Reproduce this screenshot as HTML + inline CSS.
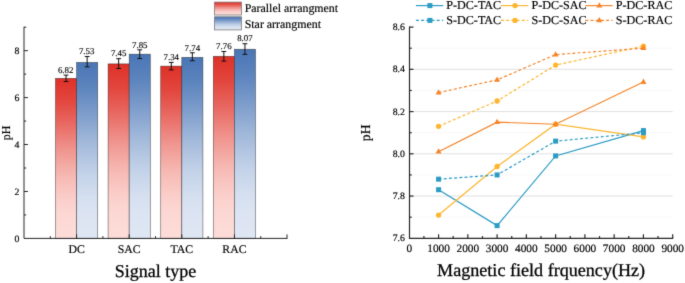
<!DOCTYPE html>
<html lang="en"><head><meta charset="utf-8"><title>pH charts</title>
<style>html,body{margin:0;padding:0;background:#fff}body{width:685px;height:283px;overflow:hidden}svg text{text-rendering:geometricPrecision;stroke:#000;stroke-width:0.17px;font-family:"Liberation Serif","Times New Roman",serif}svg text.t{stroke-width:0.28px}svg .v text{stroke-width:0.12px}</style>
</head><body>
<svg width="685" height="283" viewBox="0 0 685 283" style="display:block;filter:url(#soft)">
<defs><filter id="soft" x="0" y="0" width="685" height="283" filterUnits="userSpaceOnUse" color-interpolation-filters="sRGB"><feConvolveMatrix order="3" kernelMatrix="0.015 0.08 0.015 0.08 0.62 0.08 0.015 0.08 0.015" divisor="1" edgeMode="duplicate" preserveAlpha="true"/></filter><linearGradient id="gr" x1="0" y1="0" x2="0" y2="1"><stop offset="0" stop-color="#de3128"/><stop offset="0.1375" stop-color="#e2463d"/><stop offset="0.2625" stop-color="#e7645d"/><stop offset="0.45" stop-color="#f0958f"/><stop offset="0.575" stop-color="#f5b1ab"/><stop offset="0.6375" stop-color="#f7bdb8"/><stop offset="0.7625" stop-color="#fbcfcb"/><stop offset="0.8625" stop-color="#fcd8d4"/><stop offset="1" stop-color="#fddcd8"/></linearGradient><linearGradient id="gb" x1="0" y1="0" x2="0" y2="1"><stop offset="0" stop-color="#4a76b6"/><stop offset="0.1375" stop-color="#5c84bd"/><stop offset="0.2625" stop-color="#7798c9"/><stop offset="0.45" stop-color="#a1b8da"/><stop offset="0.575" stop-color="#b9cae4"/><stop offset="0.6375" stop-color="#c4d3e9"/><stop offset="0.7625" stop-color="#d4dfef"/><stop offset="0.8625" stop-color="#dce4f3"/><stop offset="1" stop-color="#dfe7f4"/></linearGradient></defs>
<rect width="685" height="283" fill="#fff"/>
<g id="left">
<rect x="55.50" y="78.36" width="21.10" height="160.04" fill="url(#gr)" stroke="#1a1a1a" stroke-opacity="0.62" stroke-width="0.65"/>
<rect x="76.60" y="62.45" width="21.10" height="175.95" fill="url(#gb)" stroke="#1a1a1a" stroke-opacity="0.62" stroke-width="0.65"/>
<rect x="108.10" y="63.88" width="21.10" height="174.52" fill="url(#gr)" stroke="#1a1a1a" stroke-opacity="0.62" stroke-width="0.65"/>
<rect x="129.20" y="54.19" width="21.10" height="184.21" fill="url(#gb)" stroke="#1a1a1a" stroke-opacity="0.62" stroke-width="0.65"/>
<rect x="160.70" y="66.15" width="21.10" height="172.25" fill="url(#gr)" stroke="#1a1a1a" stroke-opacity="0.62" stroke-width="0.65"/>
<rect x="181.80" y="57.38" width="21.10" height="181.02" fill="url(#gb)" stroke="#1a1a1a" stroke-opacity="0.62" stroke-width="0.65"/>
<rect x="213.30" y="56.30" width="21.10" height="182.10" fill="url(#gr)" stroke="#1a1a1a" stroke-opacity="0.62" stroke-width="0.65"/>
<rect x="234.40" y="49.26" width="21.10" height="189.14" fill="url(#gb)" stroke="#1a1a1a" stroke-opacity="0.62" stroke-width="0.65"/>
<g stroke="#262626" stroke-width="1.0" fill="none">
<path d="M24.0 26.8V238.4H287.40"/>
<path d="M24.0 214.93h2.2"/>
<path d="M24.0 191.47h4"/>
<path d="M24.0 168.00h2.2"/>
<path d="M24.0 144.53h4"/>
<path d="M24.0 121.07h2.2"/>
<path d="M24.0 97.60h4"/>
<path d="M24.0 74.13h2.2"/>
<path d="M24.0 50.67h4"/>
<path d="M24.0 27.20h2.2"/>
<path d="M50.30 238.4v-2.2"/>
<path d="M76.60 238.4v-4"/>
<path d="M102.90 238.4v-2.2"/>
<path d="M129.20 238.4v-4"/>
<path d="M155.50 238.4v-2.2"/>
<path d="M181.80 238.4v-4"/>
<path d="M208.10 238.4v-2.2"/>
<path d="M234.40 238.4v-4"/>
<path d="M260.70 238.4v-2.2"/>
<path d="M287.00 238.4v-4"/>
</g>
<g stroke="#111" stroke-width="1" fill="none">
<path d="M66.05 75.14V81.57M63.65 75.14h4.8M63.65 81.57h4.8"/>
<path d="M87.15 56.53V66.86M84.75 56.53h4.8M84.75 66.86h4.8"/>
<path d="M118.65 58.65V68.50M116.25 58.65h4.8M116.25 68.50h4.8"/>
<path d="M139.75 49.82V58.55M137.35 49.82h4.8M137.35 58.55h4.8"/>
<path d="M171.25 62.40V69.91M168.85 62.40h4.8M168.85 69.91h4.8"/>
<path d="M192.35 52.78V60.76M189.95 52.78h4.8M189.95 60.76h4.8"/>
<path d="M223.85 51.49V61.11M221.45 51.49h4.8M221.45 61.11h4.8"/>
<path d="M244.95 43.72V54.33M242.55 43.72h4.8M242.55 54.33h4.8"/>
</g>
<g class="v" font-family="Liberation Serif, Times New Roman, serif" font-size="8.9" fill="#000" text-anchor="middle">
<text x="65.65" y="73.30">6.82</text>
<text x="86.65" y="54.40">7.53</text>
<text x="118.65" y="56.30">7.45</text>
<text x="139.75" y="47.80">7.85</text>
<text x="171.25" y="60.00">7.34</text>
<text x="192.35" y="50.50">7.74</text>
<text x="223.85" y="49.40">7.76</text>
<text x="244.95" y="41.40">8.07</text>
</g>
<g font-family="Liberation Serif, Times New Roman, serif" font-size="9.8" fill="#000" text-anchor="end">
<text x="19.5" y="241.80">0</text>
<text x="19.5" y="194.87">2</text>
<text x="19.5" y="147.93">4</text>
<text x="19.5" y="101.00">6</text>
<text x="19.5" y="54.07">8</text>
</g>
<g font-family="Liberation Serif, Times New Roman, serif" font-size="11.8" fill="#000" text-anchor="middle">
<text x="76.60" y="252.6">DC</text>
<text x="129.20" y="252.6">SAC</text>
<text x="181.80" y="252.6">TAC</text>
<text x="234.40" y="252.6">RAC</text>
</g>
<text class="t" font-family="Liberation Serif, Times New Roman, serif" font-size="18" fill="#000" text-anchor="middle" x="155.5" y="276.5">Signal type</text>
<text font-family="Liberation Serif, Times New Roman, serif" font-size="12" fill="#000" text-anchor="middle" transform="translate(9.8 133) rotate(-90)">pH</text>
<rect x="214.5" y="2.1" width="27" height="12.9" fill="url(#gr)" stroke="#7c7c7c" stroke-width="0.8"/>
<rect x="214.5" y="16.8" width="27" height="13.1" fill="url(#gb)" stroke="#7c7c7c" stroke-width="0.8"/>
<text font-family="Liberation Serif, Times New Roman, serif" font-size="11.9" fill="#000" x="244.7" y="12.4">Parallel arrangment</text>
<text font-family="Liberation Serif, Times New Roman, serif" font-size="11.9" fill="#000" x="244.7" y="27.6">Star arrangment</text>
</g>
<g id="right">
<g stroke="#d6d6d6" stroke-width="0.75">
<path d="M409.3 196.06H672.7"/>
<path d="M409.3 153.82H672.7"/>
<path d="M409.3 111.58H672.7"/>
<path d="M409.3 69.34H672.7"/>
</g>
<g stroke="#ececec" stroke-width="0.7" stroke-dasharray="0.9 0.7">
<path d="M409.3 217.18H672.7"/>
<path d="M409.3 174.94H672.7"/>
<path d="M409.3 132.70H672.7"/>
<path d="M409.3 90.46H672.7"/>
<path d="M409.3 48.22H672.7"/>
</g>
<polyline points="438.57,189.72 497.10,225.63 555.63,155.93 643.43,130.59" fill="none" stroke="#2b9bc4" stroke-width="1.2"/>
<rect x="436.07" y="187.22" width="5.0" height="5.0" fill="#2b9bc4"/>
<rect x="494.60" y="223.13" width="5.0" height="5.0" fill="#2b9bc4"/>
<rect x="553.13" y="153.43" width="5.0" height="5.0" fill="#2b9bc4"/>
<rect x="640.93" y="128.09" width="5.0" height="5.0" fill="#2b9bc4"/>
<polyline points="438.57,215.07 497.10,166.49 555.63,124.25 643.43,136.92" fill="none" stroke="#fdb52e" stroke-width="1.2"/>
<circle cx="438.57" cy="215.07" r="2.65" fill="#fdb52e"/>
<circle cx="497.10" cy="166.49" r="2.65" fill="#fdb52e"/>
<circle cx="555.63" cy="124.25" r="2.65" fill="#fdb52e"/>
<circle cx="643.43" cy="136.92" r="2.65" fill="#fdb52e"/>
<polyline points="438.57,151.71 497.10,122.14 555.63,124.25 643.43,82.01" fill="none" stroke="#f58429" stroke-width="1.2"/>
<path d="M438.57 148.31L441.57 153.61H435.57Z" fill="#f58429"/>
<path d="M497.10 118.74L500.10 124.04H494.10Z" fill="#f58429"/>
<path d="M555.63 120.85L558.63 126.15H552.63Z" fill="#f58429"/>
<path d="M643.43 78.61L646.43 83.91H640.43Z" fill="#f58429"/>
<polyline points="438.57,179.16 497.10,174.94 555.63,141.15 643.43,132.70" fill="none" stroke="#2b9bc4" stroke-width="1.2" stroke-dasharray="3 2.2"/>
<rect x="436.07" y="176.66" width="5.0" height="5.0" fill="#2b9bc4"/>
<rect x="494.60" y="172.44" width="5.0" height="5.0" fill="#2b9bc4"/>
<rect x="553.13" y="138.65" width="5.0" height="5.0" fill="#2b9bc4"/>
<rect x="640.93" y="130.20" width="5.0" height="5.0" fill="#2b9bc4"/>
<polyline points="438.57,126.36 497.10,101.02 555.63,65.12 643.43,46.11" fill="none" stroke="#fdb52e" stroke-width="1.2" stroke-dasharray="3 2.2"/>
<circle cx="438.57" cy="126.36" r="2.65" fill="#fdb52e"/>
<circle cx="497.10" cy="101.02" r="2.65" fill="#fdb52e"/>
<circle cx="555.63" cy="65.12" r="2.65" fill="#fdb52e"/>
<circle cx="643.43" cy="46.11" r="2.65" fill="#fdb52e"/>
<polyline points="438.57,92.57 497.10,79.90 555.63,54.56 643.43,48.22" fill="none" stroke="#f58429" stroke-width="1.2" stroke-dasharray="3 2.2"/>
<path d="M438.57 89.17L441.57 94.47H435.57Z" fill="#f58429"/>
<path d="M497.10 76.50L500.10 81.80H494.10Z" fill="#f58429"/>
<path d="M555.63 51.16L558.63 56.46H552.63Z" fill="#f58429"/>
<path d="M643.43 44.82L646.43 50.12H640.43Z" fill="#f58429"/>
<g stroke="#262626" stroke-width="1.2" fill="none">
<path d="M409.5 26.6V238.3H673.20"/>
<path d="M409.5 217.18h2.2"/>
<path d="M409.5 196.06h4"/>
<path d="M409.5 174.94h2.2"/>
<path d="M409.5 153.82h4"/>
<path d="M409.5 132.70h2.2"/>
<path d="M409.5 111.58h4"/>
<path d="M409.5 90.46h2.2"/>
<path d="M409.5 69.34h4"/>
<path d="M409.5 48.22h2.2"/>
<path d="M409.5 27.10h4"/>
<path d="M423.93 238.3v-2.2"/>
<path d="M438.57 238.3v-4"/>
<path d="M453.20 238.3v-2.2"/>
<path d="M467.83 238.3v-4"/>
<path d="M482.47 238.3v-2.2"/>
<path d="M497.10 238.3v-4"/>
<path d="M511.73 238.3v-2.2"/>
<path d="M526.37 238.3v-4"/>
<path d="M541.00 238.3v-2.2"/>
<path d="M555.63 238.3v-4"/>
<path d="M570.27 238.3v-2.2"/>
<path d="M584.90 238.3v-4"/>
<path d="M599.53 238.3v-2.2"/>
<path d="M614.17 238.3v-4"/>
<path d="M628.80 238.3v-2.2"/>
<path d="M643.43 238.3v-4"/>
<path d="M658.07 238.3v-2.2"/>
<path d="M672.70 238.3v-4"/>
</g>
<g font-family="Liberation Serif, Times New Roman, serif" font-size="9.8" fill="#000" text-anchor="end">
<text x="404.9" y="241.40">7.6</text>
<text x="404.9" y="199.16">7.8</text>
<text x="404.9" y="156.92">8.0</text>
<text x="404.9" y="114.68">8.2</text>
<text x="404.9" y="72.44">8.4</text>
<text x="404.9" y="30.20">8.6</text>
</g>
<g font-family="Liberation Serif, Times New Roman, serif" font-size="11.3" fill="#000" text-anchor="middle">
<text x="409.30" y="251.5">0</text>
<text x="438.57" y="251.5">1000</text>
<text x="467.83" y="251.5">2000</text>
<text x="497.10" y="251.5">3000</text>
<text x="526.37" y="251.5">4000</text>
<text x="555.63" y="251.5">5000</text>
<text x="584.90" y="251.5">6000</text>
<text x="614.17" y="251.5">7000</text>
<text x="643.43" y="251.5">8000</text>
<text x="672.70" y="251.5">9000</text>
</g>
<text class="t" font-family="Liberation Serif, Times New Roman, serif" font-size="18.1" fill="#000" text-anchor="middle" x="541.1" y="275.5">Magnetic field frquency(Hz)</text>
<text font-family="Liberation Serif, Times New Roman, serif" font-size="13.7" fill="#000" text-anchor="middle" transform="translate(370.0 132.8) rotate(-90)">pH</text>
<path d="M415.90 5.60h27.3" stroke="#2b9bc4" stroke-width="1.2"/>
<rect x="427.40" y="3.10" width="5.0" height="5.0" fill="#2b9bc4"/>
<text font-family="Liberation Serif, Times New Roman, serif" font-size="12.1" fill="#000" x="446.3" y="9.40">P-DC-TAC</text>
<path d="M501.00 5.60h27.3" stroke="#fdb52e" stroke-width="1.2"/>
<circle cx="515.00" cy="5.60" r="2.65" fill="#fdb52e"/>
<text font-family="Liberation Serif, Times New Roman, serif" font-size="12.1" fill="#000" x="531.5" y="9.40">P-DC-SAC</text>
<path d="M585.30 5.60h27.3" stroke="#f58429" stroke-width="1.2"/>
<path d="M599.30 2.20L602.30 7.50H596.30Z" fill="#f58429"/>
<text font-family="Liberation Serif, Times New Roman, serif" font-size="12.1" fill="#000" x="615.8" y="9.40">P-DC-RAC</text>
<path d="M415.90 20.40h27.3" stroke="#2b9bc4" stroke-width="1.2" stroke-dasharray="3 2.2"/>
<rect x="427.40" y="17.90" width="5.0" height="5.0" fill="#2b9bc4"/>
<text font-family="Liberation Serif, Times New Roman, serif" font-size="12.1" fill="#000" x="446.3" y="24.00">S-DC-TAC</text>
<path d="M501.00 20.40h27.3" stroke="#fdb52e" stroke-width="1.2" stroke-dasharray="3 2.2"/>
<circle cx="515.00" cy="20.40" r="2.65" fill="#fdb52e"/>
<text font-family="Liberation Serif, Times New Roman, serif" font-size="12.1" fill="#000" x="531.5" y="24.00">S-DC-SAC</text>
<path d="M585.30 20.40h27.3" stroke="#f58429" stroke-width="1.2" stroke-dasharray="3 2.2"/>
<path d="M599.30 17.00L602.30 22.30H596.30Z" fill="#f58429"/>
<text font-family="Liberation Serif, Times New Roman, serif" font-size="12.1" fill="#000" x="615.8" y="24.00">S-DC-RAC</text>
</g>
</svg>
</body></html>
